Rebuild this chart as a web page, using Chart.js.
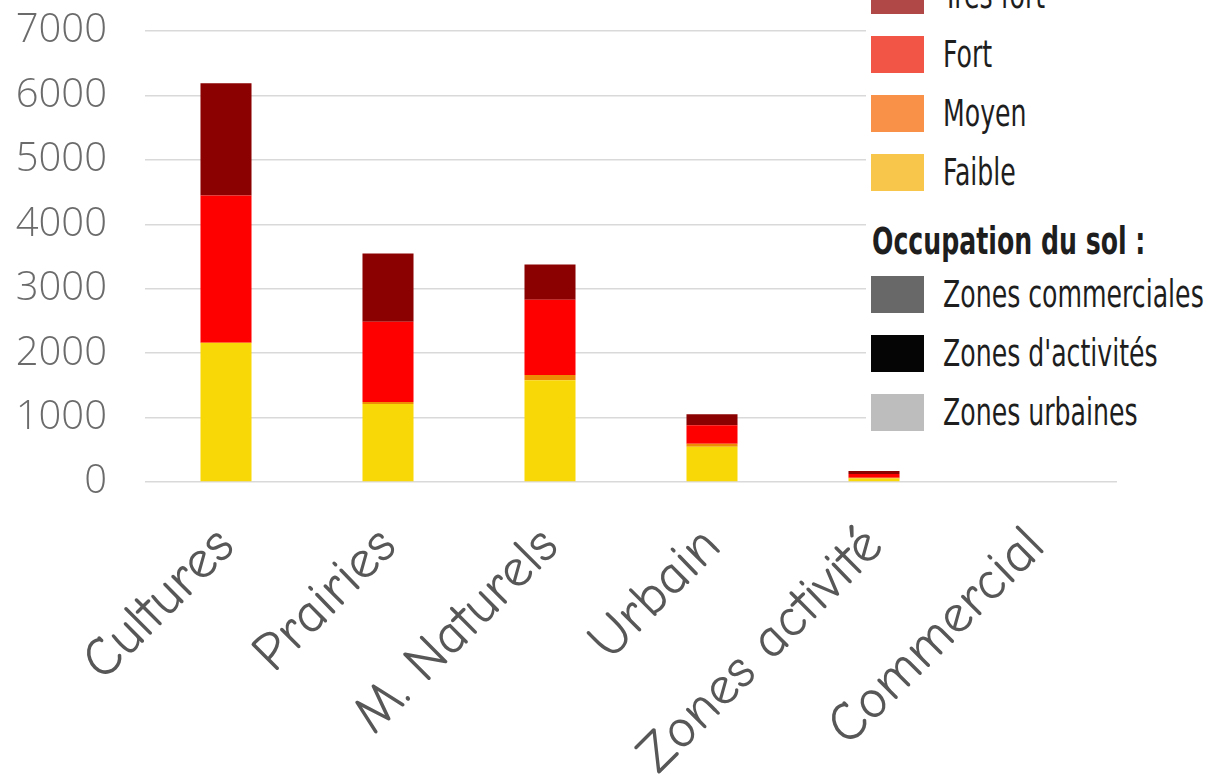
<!DOCTYPE html>
<html>
<head>
<meta charset="utf-8">
<script src="https://cdn.jsdelivr.net/npm/chart.js@4"></script>
<style>
  body { margin: 0; background: #fff; }
  #wrap { position: relative; width: 1211px; height: 779px; overflow: hidden; }
  #legend {
    position: absolute; left: 866px; top: 0; width: 345px; height: 440px;
    background: #fff; overflow: hidden;
    font-family: "DejaVu Sans Condensed", "DejaVu Sans", sans-serif;
    font-stretch: condensed; color: #1e1e1e;
  }
  .row { position: absolute; left: 5px; height: 38px; }
  .sw { position: absolute; left: 0; top: 0; width: 53px; height: 37px; }
  .txt {
    position: absolute; left: 72px; top: 0; line-height: 37px; font-size: 28px;
    white-space: nowrap; transform: scaleY(1.3); transform-origin: left center;
  }
  .title { position: absolute; left: 6px; font-size: 28px; font-weight: bold;
    white-space: nowrap; transform: scaleY(1.3); transform-origin: left center; line-height: 30px; }
</style>
</head>
<body>
<div id="wrap">
  <canvas id="sensi" width="1211" height="779"></canvas>
  <div id="legend"></div>
</div>
<script>
// Occupation du sol - surfaces par niveau de sensibilite
const categories = ["Cultures", "Prairies", "M. Naturels", "Urbain", "Zones activité", "Commercial"];
const faible   = [2160, 1210, 1580, 546, 55, 0];
const moyen    = [0, 30, 80, 47, 10, 0];
const fort     = [2285, 1248, 1168, 289, 60, 0];
const tresFort = [1745, 1057, 547, 171, 45, 0];
const yTicks = [0, 1000, 2000, 3000, 4000, 5000, 6000, 7000];

// Legend (image overlay in the original)
const legendLevels = [
    ["Très fort", "#b04848"],
    ["Fort", "#f25545"],
    ["Moyen", "#f99248"],
    ["Faible", "#f9c64c"]
];
const legendTitle = "Occupation du sol :";
const legendZones = [
    ["Zones commerciales", "#686868"],
    ["Zones d'activités", "#050505"],
    ["Zones urbaines", "#bdbdbd"]
];

function buildLegend() {
    const box = document.getElementById("legend");
    let html = "";
    let top = -23;
    legendLevels.forEach(([label, color]) => {
        html += `<div class="row" style="top:${top}px"><div class="sw" style="background:${color}"></div><div class="txt">${label}</div></div>`;
        top += 59;
    });
    html += `<div class="title" style="top:227px">${legendTitle}</div>`;
    top = 276;
    legendZones.forEach(([label, color]) => {
        html += `<div class="row" style="top:${top}px"><div class="sw" style="background:${color}"></div><div class="txt">${label}</div></div>`;
        top += 59;
    });
    box.innerHTML = html;
}

function createChart() {
    const ctx = document.getElementById("sensi").getContext("2d");
    new Chart(ctx, {
        type: "bar",
        data: {
            labels: categories,
            datasets: [
                { label: "Faible", data: faible, backgroundColor: "#f9d808" },
                { label: "Moyen", data: moyen, backgroundColor: "#ee8c05" },
                { label: "Fort", data: fort, backgroundColor: "#ff0000" },
                { label: "Très fort", data: tresFort, backgroundColor: "#8b0000" }
            ]
        },
        options: {
            responsive: false,
            animation: false,
            layout: { padding: { top: 10, right: 94, left: 0, bottom: 0 } },
            datasets: { bar: { categoryPercentage: 1, barPercentage: 0.315, borderWidth: 0 } },
            plugins: { legend: { display: false }, tooltip: { enabled: false } },
            scales: {
                x: {
                    stacked: true,
                    grid: { display: false },
                    border: { display: false },
                    ticks: {
                        minRotation: 45, maxRotation: 45, padding: 24,
                        color: "#575757",
                        font: { family: "'Comic Sans MS', 'Comic Neue', cursive", size: 55 }
                    },
                    afterFit: (scale) => { scale.height = 297; scale.paddingLeft = 0; scale.paddingRight = 0; }
                },
                y: {
                    stacked: true,
                    min: 0, max: 7000,
                    afterBuildTicks: (scale) => { scale.ticks = yTicks.map(v => ({ value: v })); },
                    grid: { color: "#d9d9d9", lineWidth: 1.5, drawTicks: false },
                    border: { display: false },
                    ticks: {
                        padding: 38, color: "#6b6b6b",
                        font: { family: "'Open Sans', sans-serif", size: 40, weight: 300 },
                        callback: (v) => String(v)
                    },
                    afterFit: (scale) => { scale.width = 145; scale.paddingTop = 31; scale.paddingBottom = 0; }
                }
            }
        }
    });
}

buildLegend();
createChart();
</script>
</body>
</html>
